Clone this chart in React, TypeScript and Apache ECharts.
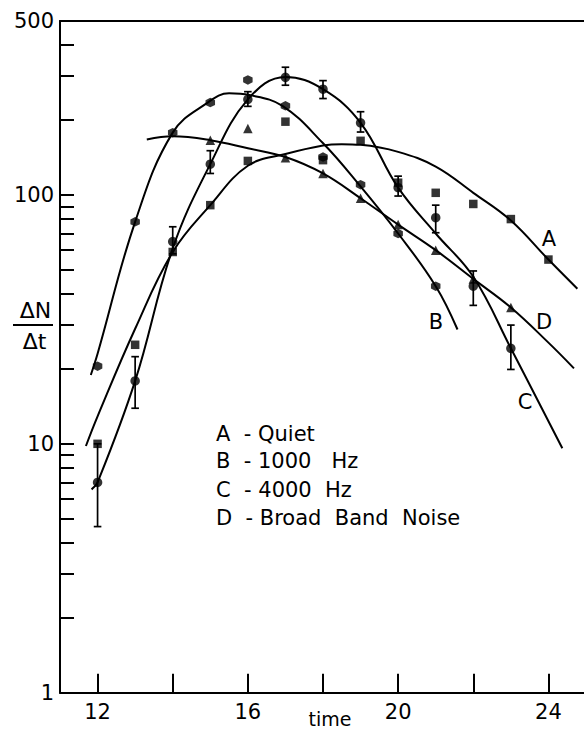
import React, { useEffect, useRef } from "react";
import * as echarts from "echarts";

// Axis ticks and labels
const timeTicks = [12, 14, 16, 18, 20, 22, 24];
const timeLabels = [12, 16, 20, 24];
const yTicks = [1, 2, 3, 4, 5, 6, 7, 8, 9, 10, 20, 30, 40, 50, 60, 70, 80, 90, 100, 200, 300, 400, 500];
const yLabels = [1, 10, 100, 500];
const xAxisTitle = "time";

// A - Quiet (squares)
const quietT = [12, 13, 14, 15, 16, 17, 18, 19, 20, 21, 22, 23, 24];
const quietV = [10, 25, 59, 91, 137, 197, 138, 165, 112, 102, 92, 80, 55];

// B - 1000 Hz (hexagons)
const hz1000T = [12, 13, 14, 15, 16, 17, 18, 19, 20, 21];
const hz1000V = [20.5, 78, 178, 235, 290, 228, 142, 110, 70, 43];

// C - 4000 Hz (circles with error bars)
const hz4000T = [12, 13, 14, 15, 16, 17, 18, 19, 20, 21, 22, 23];
const hz4000V = [7.0, 17.9, 65, 133, 242, 297, 266, 195, 107, 81, 43, 24.2];
const hz4000Low = [4.65, 13.9, 58, 122, 227, 276, 244, 179, 99, 70.5, 36, 19.9];
const hz4000High = [10, 22.4, 74.5, 150.6, 260, 326, 288, 216, 119, 91, 49.5, 30];

// D - Broad Band Noise (triangles)
const noiseT = [15, 16, 17, 18, 19, 20, 21, 22, 23];
const noiseV = [166, 185, 141, 122, 97, 76, 60, 46, 35.3];

// Hand-drawn fitted curves
const quietCurveT = [11.69, 12, 13, 14, 15, 16, 17, 18, 18.5, 19, 20, 21, 22, 23, 24, 24.77];
const quietCurveV = [9.8, 12.9, 29, 59, 91, 131, 146, 158, 160, 159, 149, 130, 102, 79, 55, 42];
const hz1000CurveT = [11.82, 12, 13, 14, 14.93, 15.5, 16.04, 16.92, 17.99, 18.96, 20, 21, 21.58];
const hz1000CurveV = [18.9, 23, 78, 178, 235, 256, 252, 228, 162, 110, 70, 43, 28.8];
const hz4000CurveT = [11.84, 12, 13, 14, 15, 16, 17, 18, 19, 20, 21, 22, 23, 24.37];
const hz4000CurveV = [6.56, 7.0, 17.9, 61, 133, 242, 298, 266, 195, 107, 70, 46.9, 24.2, 9.6];
const noiseCurveT = [13.31, 14, 15, 16, 17, 18, 19, 20, 21, 22, 23, 24, 24.68];
const noiseCurveV = [167, 172, 166, 154, 142, 122, 97, 76, 60, 46, 35.3, 25.5, 20.1];

const legendLines = [
  "A\u00a0\u00a0- Quiet",
  "B\u00a0\u00a0- 1000\u00a0\u00a0\u00a0Hz",
  "C\u00a0\u00a0- 4000\u00a0\u00a0Hz",
  "D\u00a0\u00a0- Broad\u00a0\u00a0Band\u00a0\u00a0Noise",
];
const curveLetters = ["A", "B", "C", "D"];

const FONT = "DejaVu Sans";
const BLACK = "#000";

const zip = (t: number[], v: number[]) => t.map((x, i) => [x, v[i]]);

export default function App() {
  const ref = useRef<HTMLDivElement>(null);
  useEffect(() => {
    if (!ref.current) return;
    const chart = echarts.init(ref.current, undefined, { renderer: "svg" });

    const curve = (name: string, t: number[], v: number[]) => ({
      name,
      type: "line",
      data: zip(t, v),
      smooth: 0.4,
      showSymbol: false,
      symbol: "none",
      lineStyle: { color: BLACK, width: 2 },
      z: 2,
    });
    const marks = (name: string, t: number[], v: number[], symbol: string, size: number) => ({
      name,
      type: "scatter",
      data: zip(t, v),
      symbol,
      symbolSize: size,
      itemStyle: { color: BLACK },
      z: 4,
    });

    const letterPos = [
      [549, 239],
      [436, 322],
      [525, 402],
      [544, 322],
    ];
    const font = (s: number) => `${s}px "${FONT}"`;

    chart.setOption({
      animation: false,
      backgroundColor: "#fff",
      textStyle: { fontFamily: FONT },
      grid: { left: 60, top: 21, width: 526, height: 671.7, outerBoundsMode: "none", containLabel: false },
      xAxis: [
        {
          type: "value",
          min: 11,
          max: 25,
          position: "bottom",
          axisLine: { show: true, onZero: false, lineStyle: { color: BLACK, width: 2 } },
          axisTick: { show: true, inside: true, length: 19, customValues: timeTicks, lineStyle: { color: BLACK, width: 2 } },
          axisLabel: { customValues: timeLabels, color: BLACK, fontSize: 21, fontFamily: FONT, margin: 9 },
          splitLine: { show: false },
        },
        {
          type: "value",
          min: 11,
          max: 25,
          position: "top",
          axisLine: { show: true, onZero: false, lineStyle: { color: BLACK, width: 2 } },
          axisTick: { show: false },
          axisLabel: { show: false },
          splitLine: { show: false },
        },
      ],
      yAxis: {
        type: "log",
        logBase: 10,
        min: 1,
        max: 500,
        axisLine: { show: true, onZero: false, lineStyle: { color: BLACK, width: 2 } },
        axisTick: { show: true, inside: true, length: 14, customValues: yTicks, lineStyle: { color: BLACK, width: 2 } },
        axisLabel: {
          customValues: yLabels,
          color: BLACK,
          fontSize: 21,
          fontFamily: FONT,
          margin: 6,
          formatter: (v: number) => String(Math.round(v)),
        },
        splitLine: { show: false },
      },
      series: [
        curve("A curve", quietCurveT, quietCurveV),
        curve("B curve", hz1000CurveT, hz1000CurveV),
        curve("C curve", hz4000CurveT, hz4000CurveV),
        curve("D curve", noiseCurveT, noiseCurveV),
        {
          name: "C error",
          type: "custom",
          data: hz4000T.map((t, i) => [t, hz4000Low[i], hz4000High[i]]),
          encode: { x: 0, y: [1, 2] },
          z: 3,
          renderItem: (params: any, api: any) => {
            const x = api.value(0);
            const lo = api.coord([x, api.value(1)]);
            const hi = api.coord([x, api.value(2)]);
            const w = 3.8;
            const st = { stroke: BLACK, lineWidth: 1.7 };
            return {
              type: "group",
              children: [
                { type: "line", shape: { x1: lo[0], y1: lo[1], x2: hi[0], y2: hi[1] }, style: st },
                { type: "line", shape: { x1: lo[0] - w, y1: lo[1], x2: lo[0] + w, y2: lo[1] }, style: st },
                { type: "line", shape: { x1: hi[0] - w, y1: hi[1], x2: hi[0] + w, y2: hi[1] }, style: st },
              ],
            };
          },
        },
        marks("A - Quiet", quietT, quietV, "rect", 8.5),
        marks("B - 1000 Hz", hz1000T, hz1000V, "path://M0,-1L0.866,-0.5L0.866,0.5L0,1L-0.866,0.5L-0.866,-0.5Z", 9.5),
        marks("C - 4000 Hz", hz4000T, hz4000V, "circle", 9.5),
        marks("D - Broad Band Noise", noiseT, noiseV, "triangle", 9.5),
      ],
      graphic: [
        { type: "text", x: 330, y: 719, style: { text: xAxisTitle, fill: BLACK, font: font(19), align: "center", verticalAlign: "middle" } },
        { type: "text", x: 35.5, y: 310, style: { text: "ΔN", fill: BLACK, font: font(22), align: "center", verticalAlign: "middle" } },
        { type: "line", shape: { x1: 13, y1: 325, x2: 53, y2: 325 }, style: { stroke: BLACK, lineWidth: 2 } },
        { type: "text", x: 34.5, y: 341, style: { text: "Δt", fill: BLACK, font: font(22), align: "center", verticalAlign: "middle" } },
        ...legendLines.map((s, i) => ({
          type: "text",
          x: 216,
          y: [433.5, 461, 490, 518][i],
          style: { text: s, fill: BLACK, font: font(21), align: "left", verticalAlign: "middle" },
        })),
        ...curveLetters.map((s, i) => ({
          type: "text",
          x: letterPos[i][0],
          y: letterPos[i][1],
          style: { text: s, fill: BLACK, font: font(21), align: "center", verticalAlign: "middle" },
        })),
      ],
    });
    return () => chart.dispose();
  }, []);
  return <div ref={ref} style={{ position: "fixed", left: 0, top: 0, width: 584, height: 729, background: "#fff" }} />;
}
